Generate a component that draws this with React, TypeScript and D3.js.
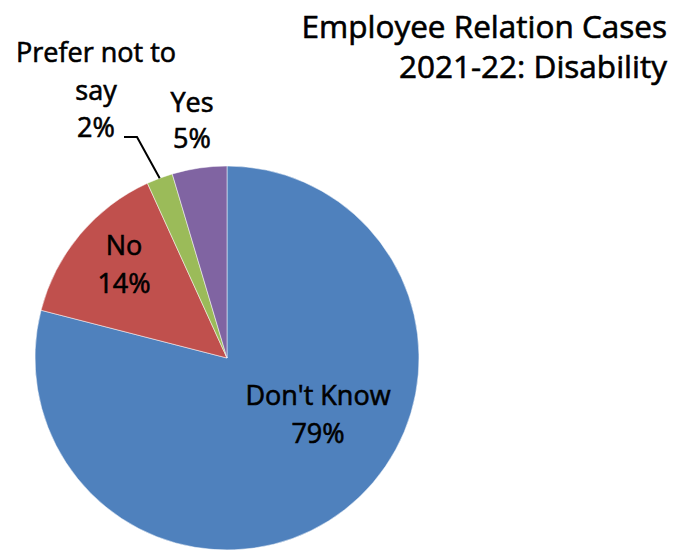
import React from "react";
import * as d3 from "d3";

const categories = ["Don't Know", "No", "Prefer not to say", "Yes"];
const values = [79.0, 14.2, 2.2, 4.6];
const pctLabels = ["79%", "14%", "2%", "5%"];
const colors = ["#4F81BD", "#C0504D", "#9BBB59", "#8064A2"];
const titleLines = ["Employee Relation Cases", "2021-22: Disability"];

const W = 682;
const H = 552;
const FONT = "'Open Sans', Lato, sans-serif";

export default function App() {
  const cx = 227;
  const cy = 358;
  const r = 192;
  const pie = d3.pie<number>().sort(null).value((d) => d)(values);
  const arc = d3.arc<d3.PieArcDatum<number>>().innerRadius(0).outerRadius(r);

  const labelLines: string[][] = [
    ["Don't Know", pctLabels[0]],
    ["No", pctLabels[1]],
    ["Prefer not to", "say", pctLabels[2]],
    ["Yes", pctLabels[3]],
  ];
  const labelPos = [
    { x: 318, y: 405 },
    { x: 124, y: 255 },
    { x: 96, y: 62 },
    { x: 192, y: 112 },
  ];
  const lineGap = [38, 38, 37.5, 36];

  const green = pie[2];
  const midA = (green.startAngle + green.endAngle) / 2;
  const edge = [cx + Math.sin(midA) * r, cy - Math.cos(midA) * r];

  return (
    <svg
      width={W}
      height={H}
      style={{ position: "absolute", left: 0, top: 0, background: "#fff" }}
    >
      <g transform={`translate(${cx},${cy})`}>
        {pie.map((p, i) => (
          <path
            key={categories[i]}
            d={arc(p) || ""}
            fill={colors[i]}
            stroke="#fff"
            strokeWidth={0.5}
          />
        ))}
      </g>
      <path
        d={`M124,137 L137,137 L${edge[0]},${edge[1]}`}
        fill="none"
        stroke="#000"
        strokeWidth={2}
      />
      {labelLines.map((lines, i) =>
        lines.map((t, j) => (
          <text
            key={`${i}-${j}`}
            x={labelPos[i].x}
            y={labelPos[i].y + j * lineGap[i]}
            textAnchor="middle"
            fontFamily={FONT}
            fontSize={27}
            stroke="#000"
            strokeWidth={0.6}
            fill="#000"
          >
            {t}
          </text>
        ))
      )}
      {titleLines.map((t, i) => (
        <text
          key={t}
          x={667}
          y={38 + i * 40}
          textAnchor="end"
          fontFamily={FONT}
          fontSize={31.5}
          stroke="#000"
          strokeWidth={0.6}
          fill="#000"
        >
          {t}
        </text>
      ))}
    </svg>
  );
}
